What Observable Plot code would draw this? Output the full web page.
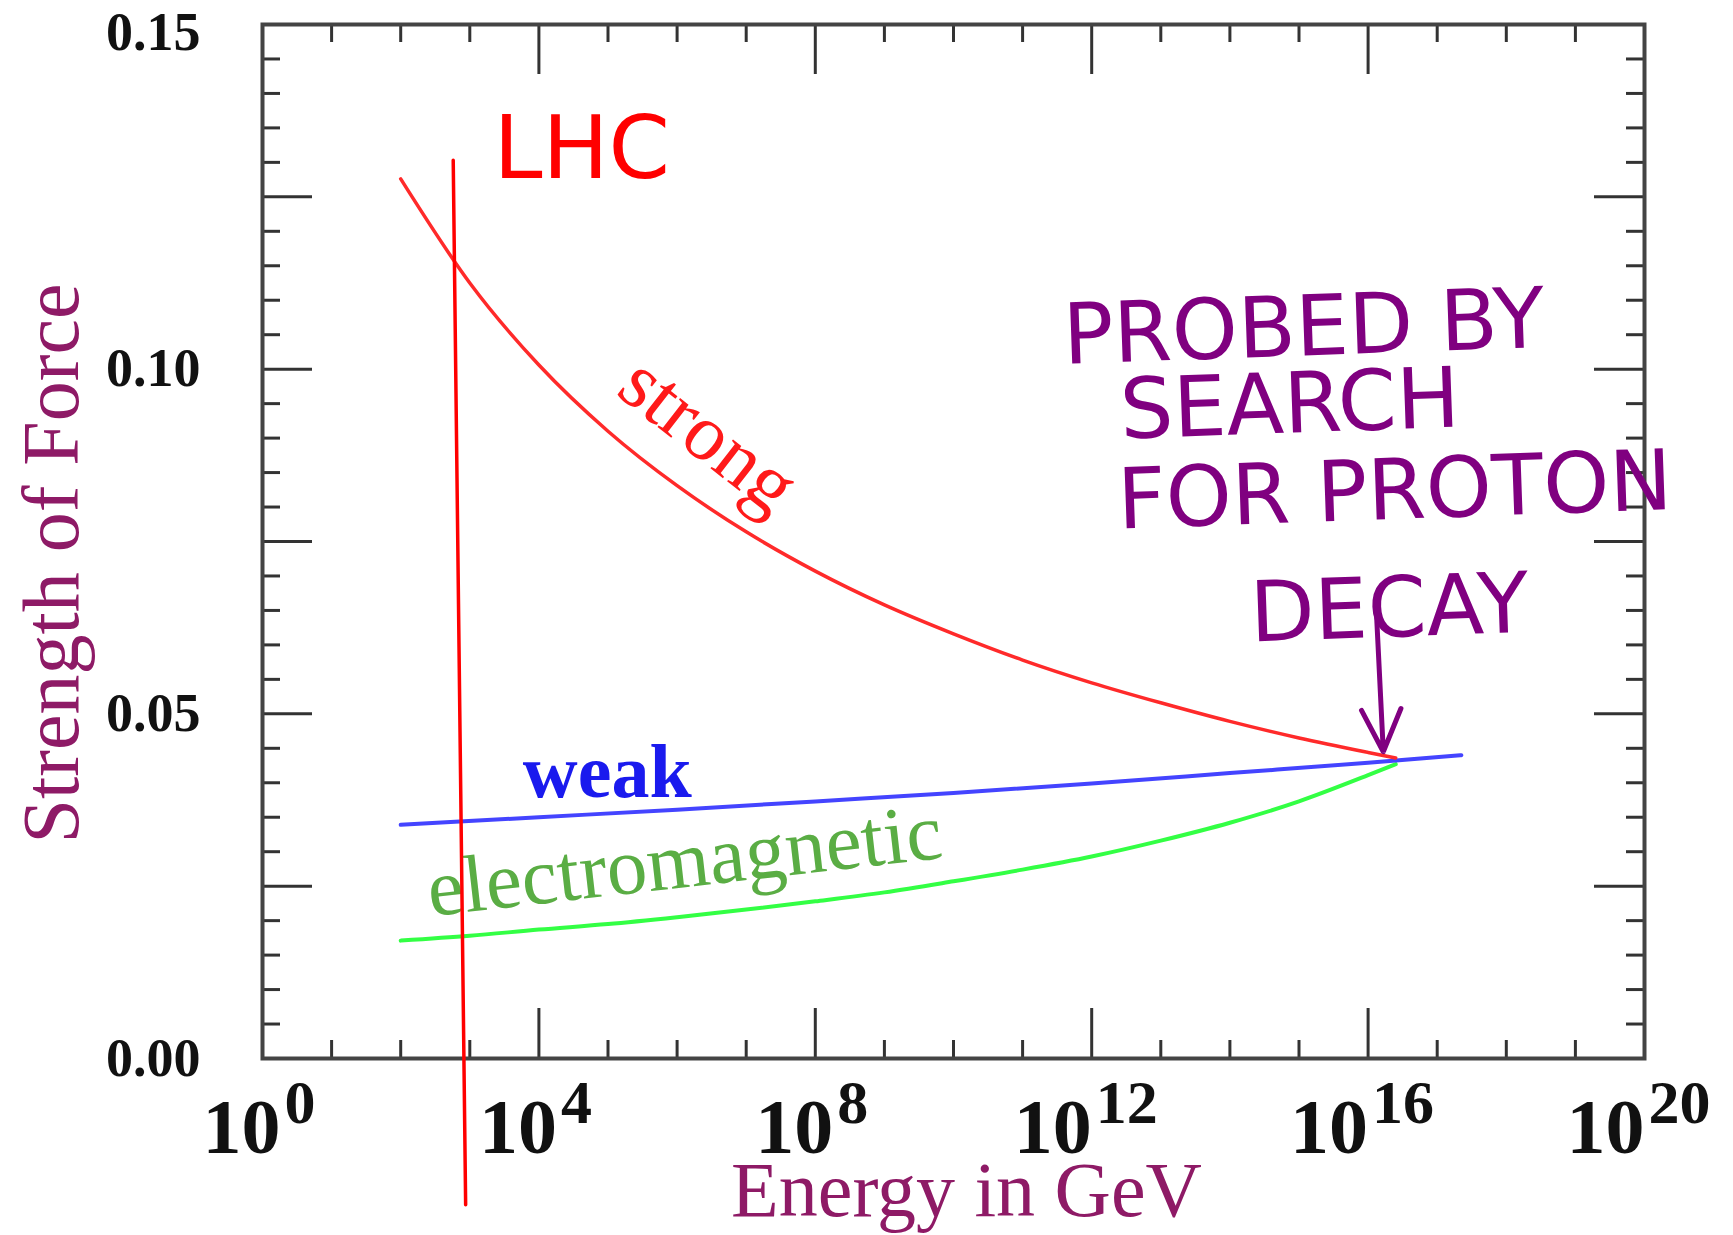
<!DOCTYPE html>
<html><head><meta charset="utf-8">
<script src="https://cdn.jsdelivr.net/npm/d3@7"></script>
<script src="https://cdn.jsdelivr.net/npm/@observablehq/plot@0.6"></script>
<style>body{margin:0;background:#fff} svg{display:block}</style>
</head><body><div id="chart"></div>
<script>
// ---- data (energy as log10 GeV exponent, strength of force) ----
const strongExp = [2, 3, 4, 5, 6, 7, 8, 9, 10, 11, 12, 13, 14, 15, 16, 16.4];
const strongVal = [0.1276, 0.1125, 0.1006, 0.0910, 0.0831, 0.0764, 0.0707, 0.0658, 0.0616, 0.0578, 0.0545, 0.0516, 0.0489, 0.0465, 0.0444, 0.0436];
const weakExp = [2, 4, 6, 8, 10, 12, 14, 16, 17.35];
const weakVal = [0.0339, 0.0350, 0.0361, 0.0373, 0.0385, 0.0399, 0.0414, 0.0429, 0.0440];
const emExp = [2, 3, 4, 5, 6, 7, 8, 9, 10, 11, 12, 13, 14, 15, 16, 16.4];
const emVal = [0.0171, 0.0178, 0.0187, 0.0195, 0.0205, 0.0216, 0.0228, 0.0241, 0.0257, 0.0274, 0.0293, 0.0316, 0.0342, 0.0373, 0.0411, 0.0427];

const xTickExponents = [0, 4, 8, 12, 16, 20];
const yTickValues = [0, 0.05, 0.10, 0.15];
const yTickLabels = ["0.00", "0.05", "0.10", "0.15"];

const seriesNames = ["strong", "weak", "electromagnetic"];
const seriesLabelX = [6.46, 4.99, 6.15];
const seriesLabelY = [0.0905, 0.0380, 0.0249];

const lhcLineExp = [2.76, 2.94];
const lhcLineVal = [0.1303, -0.0212];
const lhcText = "LHC";
const lhcTextX = 4.62, lhcTextY = 0.1278;

const noteLines = ["PROBED BY", "SEARCH", "FOR PROTON", "DECAY"];
const noteX = [15.08, 14.88, 16.40, 16.32];
const noteY = [0.1020, 0.0908, 0.0783, 0.0612];
const noteArrow = {x1: 16.12, y1: 0.0648, x2: 16.22, y2: 0.0445};

// ---- layout ----
const W = 1733, H = 1235, mL = 262, mR = 89, mT = 24, mB = 177;
const pxPerY = (H - mT - mB) / 0.15;
const pxPerX = (W - mL - mR) / 20;
const yLen = px => px / pxPerY;
const xLen = px => px / pxPerX;

const toRows = (xs, ys) => xs.map((x, i) => ({x, y: ys[i]}));
const strong = toRows(strongExp, strongVal);
const weak = toRows(weakExp, weakVal);
const em = toRows(emExp, emVal);

const decades = d3.range(0, 21);
const isMajorX = d => d % 4 === 0;
const yMinor = d3.range(1, 30).map(i => +(i * 0.005).toFixed(3));
const isMajorY = d => Math.abs(d / 0.025 - Math.round(d / 0.025)) < 1e-6;

const tickColor = "#333";
const purple = "#800080";
const axisPurple = "#8e1a66";
const serif = "'Liberation Serif', 'Times New Roman', serif";
const hand = "'DejaVu Sans', sans-serif";

const yLabelStyle = {x: 0, textAnchor: "end", lineAnchor: "middle", dx: -62, fontSize: 54, fontWeight: "bold", fontFamily: serif, fill: "#111"};

const chart = Plot.plot({
  width: W, height: H,
  marginLeft: mL, marginRight: mR, marginTop: mT, marginBottom: mB,
  x: {domain: [0, 20], axis: null},
  y: {domain: [0, 0.15], axis: null},
  marks: [
    // ticks (inward on all four sides)
    Plot.ruleX(decades, {x: d => d, y1: 0, y2: d => yLen(isMajorX(d) ? 50 : 18), stroke: tickColor, strokeWidth: 3}),
    Plot.ruleX(decades, {x: d => d, y1: 0.15, y2: d => 0.15 - yLen(isMajorX(d) ? 50 : 18), stroke: tickColor, strokeWidth: 3}),
    Plot.ruleY(yMinor, {y: d => d, x1: 0, x2: d => xLen(isMajorY(d) ? 50 : 18), stroke: tickColor, strokeWidth: 3}),
    Plot.ruleY(yMinor, {y: d => d, x1: 20, x2: d => 20 - xLen(isMajorY(d) ? 50 : 18), stroke: tickColor, strokeWidth: 3}),
    Plot.frame({stroke: "#444", strokeWidth: 4}),

    // y tick labels (top one sits a little lower so it stays on the page)
    Plot.text(yTickValues.slice(0, 3), {...yLabelStyle, y: d => d, text: (d, i) => yTickLabels[i]}),
    Plot.text(yTickValues.slice(3), {...yLabelStyle, y: d => d, text: (d, i) => yTickLabels[i + 3], dy: 8}),
    // x tick labels: base "10" and superscript exponent
    Plot.text(xTickExponents.filter(d => d < 10), {x: d => d, y: 0, text: () => "10", textAnchor: "end", lineAnchor: "bottom", dx: 18, dy: 94, fontSize: 78, fontWeight: "bold", fontFamily: serif, fill: "#111"}),
    Plot.text(xTickExponents.filter(d => d < 10), {x: d => d, y: 0, text: d => String(d), textAnchor: "start", lineAnchor: "bottom", dx: 22, dy: 64, fontSize: 62, fontWeight: "bold", fontFamily: serif, fill: "#111"}),
    Plot.text(xTickExponents.filter(d => d >= 10), {x: d => d, y: 0, text: () => "10", textAnchor: "end", lineAnchor: "bottom", dx: 0, dy: 94, fontSize: 78, fontWeight: "bold", fontFamily: serif, fill: "#111"}),
    Plot.text(xTickExponents.filter(d => d >= 10), {x: d => d, y: 0, text: d => String(d), textAnchor: "start", lineAnchor: "bottom", dx: 4, dy: 64, fontSize: 62, fontWeight: "bold", fontFamily: serif, fill: "#111"}),

    // axis titles
    Plot.text(["Strength of Force"], {frameAnchor: "left", text: d => d, rotate: -90, textAnchor: "middle", lineAnchor: "bottom", dx: -185, dy: 22, fontSize: 80, fontFamily: serif, fill: axisPurple}),
    Plot.text(["Energy in GeV"], {frameAnchor: "bottom", text: d => d, textAnchor: "middle", lineAnchor: "bottom", dx: 13, dy: 157, fontSize: 78, fontFamily: serif, fill: axisPurple}),

    // curves
    Plot.line(em, {x: "x", y: "y", stroke: "#33ff44", strokeWidth: 4, curve: "monotone-x"}),
    Plot.line(weak, {x: "x", y: "y", stroke: "#4444ff", strokeWidth: 4, curve: "monotone-x"}),
    Plot.line(strong, {x: "x", y: "y", stroke: "#ff2a2a", strokeWidth: 3.5, curve: "monotone-x"}),

    // series labels
    Plot.text([0], {x: seriesLabelX[0], y: seriesLabelY[0], text: () => seriesNames[0], rotate: 38, textAnchor: "middle", lineAnchor: "middle", fontSize: 80, fontFamily: serif, fill: "#ff1a1a"}),
    Plot.text([1], {x: seriesLabelX[1], y: seriesLabelY[1], text: () => seriesNames[1], textAnchor: "middle", lineAnchor: "bottom", fontSize: 76, fontWeight: "bold", fontFamily: serif, fill: "#1a1aee"}),
    Plot.text([2], {x: seriesLabelX[2], y: seriesLabelY[2], text: () => seriesNames[2], rotate: -6.5, textAnchor: "middle", lineAnchor: "bottom", fontSize: 81, fontFamily: serif, fill: "#5aad44"}),

    // LHC hand annotation
    Plot.line(toRows(lhcLineExp, lhcLineVal), {x: "x", y: "y", stroke: "#ff0000", strokeWidth: 3.5}),
    Plot.text([lhcText], {x: lhcTextX, y: lhcTextY, text: d => d, textAnchor: "middle", lineAnchor: "bottom", fontSize: 88, fontFamily: hand, fill: "#ff0000"}),

    // proton-decay hand annotation
    Plot.text(noteLines, {x: (d, i) => noteX[i], y: (d, i) => noteY[i], text: d => d, rotate: -2, textAnchor: "middle", lineAnchor: "bottom", fontSize: 84, fontFamily: hand, fill: purple}),
    Plot.arrow([noteArrow], {x1: "x1", y1: "y1", x2: "x2", y2: "y2", stroke: purple, strokeWidth: 5, headLength: 40, headAngle: 50, bend: 0})
  ]
});
document.getElementById("chart").appendChild(chart);
</script>
</body></html>
